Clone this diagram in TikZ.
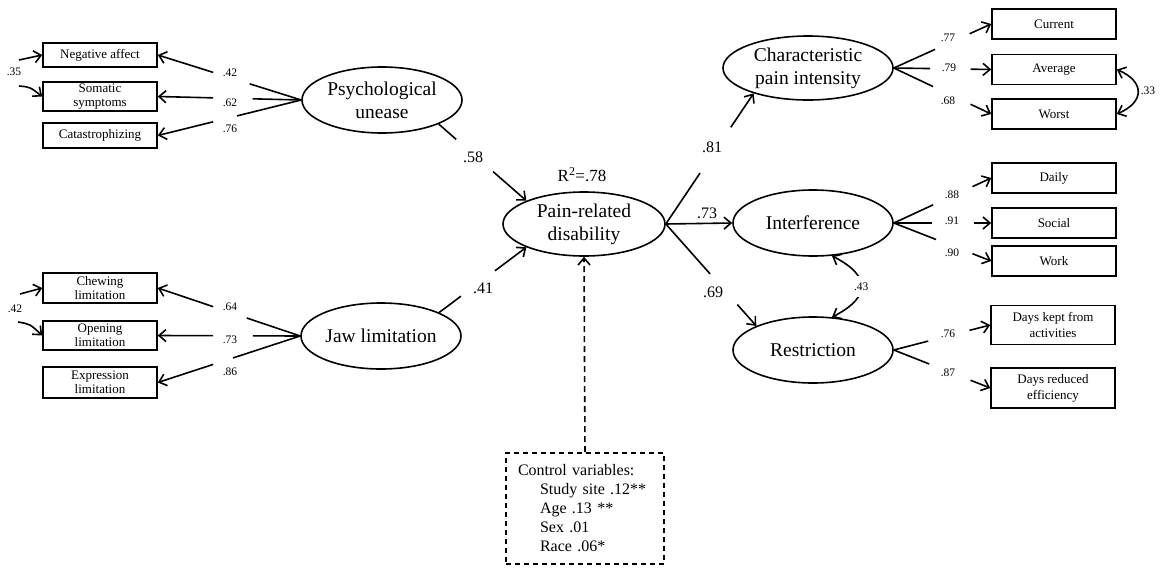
\documentclass[tikz,border=0pt]{standalone}
\usepackage{fontspec}
\setmainfont{Liberation Serif}
\usetikzlibrary{arrows.meta,calc,shapes.geometric}
\newcommand\splitarrow[5]{%
  \draw[conn] (#1) -- ($(#1)!#3!(#2)$);
  \draw[conn,#5] ($(#1)!#4!(#2)$) -- (#2);}
\begin{document}
\begin{tikzpicture}[x=1pt,y=-1pt,
  conn/.style={line width=1.6pt},
  arr/.style={-{Straight Barb[length=7pt,width=12pt]}},
  dbl/.style={{Straight Barb[length=7pt,width=12pt]}-{Straight Barb[length=7pt,width=12pt]}},
  latent/.style={ellipse,draw,line width=1.6pt,inner sep=0pt,minimum width=160pt,minimum height=66pt,align=center,font=\fontsize{19.5}{23}\selectfont},
  ind/.style={rectangle,draw,line width=1.6pt,inner sep=0pt,align=center,font=\fontsize{13}{14}\selectfont},
  lind/.style={ind,minimum width=114pt},
  rind/.style={ind,minimum width=124pt,minimum height=30pt},
  sl/.style={font=\fontsize{11.5}{12}\selectfont,inner sep=0pt},
  bl/.style={font=\fontsize{16}{18}\selectfont,inner sep=0pt}]
\useasboundingbox[fill=white] (0,0) rectangle (1163,568);

% latent variables
\node[latent] (psy) at (382,100) {Psychological\\unease};
\node[latent] (jaw) at (381,336) {Jaw limitation};
\node[latent,minimum width=162pt,minimum height=64pt] (pain) at (584,224) {Pain-related\\disability};
\node[latent,minimum width=170pt,minimum height=64pt] (char) at (808,68) {Characteristic\\pain intensity};
\node[latent] (inter) at (813,223) {Interference};
\node[latent] (restr) at (813,350) {Restriction};

% left indicators
\node[lind,minimum height=24pt] (na) at (100,55) {Negative affect};
\node[lind,minimum height=29pt] (ss) at (100,96.5) {Somatic\\symptoms};
\node[lind,minimum height=25pt] (cat) at (100,135.5) {Catastrophizing};
\node[lind,minimum height=30pt] (chew) at (100,288) {Chewing\\limitation};
\node[lind,minimum height=29pt] (open) at (100,335.5) {Opening\\limitation};
\node[lind,minimum height=31pt] (expr) at (100,382.5) {Expression\\limitation};

% right indicators
\node[rind] (cur) at (1054,24) {Current};
\node[rind] (avg) at (1054,69.5) {Average};
\node[rind] (worst) at (1054,114) {Worst};
\node[rind] (daily) at (1054,178) {Daily};
\node[rind] (social) at (1054,223) {Social};
\node[rind] (work) at (1054,261) {Work};
\node[rind,minimum height=39pt,font=\fontsize{13}{16}\selectfont] (dk) at (1053,325) {Days kept from\\activities};
\node[rind,minimum height=40pt,font=\fontsize{13}{16}\selectfont] (dr) at (1053,388) {Days reduced\\efficiency};

% control box
\node[draw,line width=1.6pt,dash pattern=on 5pt off 4pt,minimum width=158pt,minimum height=111pt,
  text width=134pt,inner xsep=12pt,inner ysep=0pt,align=left,font=\fontsize{16}{19}\selectfont] (ctrl) at (585,508.5)
  {Control variables:\\\hspace*{22pt}Study site .12**\\\hspace*{22pt}Age .13 **\\\hspace*{22pt}Sex .01\\\hspace*{22pt}Race .06*};

\node[font=\fontsize{17}{18}\selectfont,inner sep=0pt] (r2) at (582,175) {R\textsuperscript{2}=.78};

% loadings left
\splitarrow{psy.west}{na.east}{0.359}{0.614}{arr}
\splitarrow{psy.west}{ss.east}{0.338}{0.614}{arr}
\splitarrow{psy.west}{cat.east}{0.448}{0.614}{arr}
\node[sl] (l1) at (230,73) {.42};
\node[sl] (l2) at (230,103) {.62};
\node[sl] (l3) at (230,129) {.76};
\splitarrow{jaw.west}{chew.east}{0.375}{0.611}{arr}
\splitarrow{jaw.west}{open.east}{0.333}{0.611}{arr}
\splitarrow{jaw.west}{expr.east}{0.472}{0.611}{arr}
\node[sl] (l4) at (230,307) {.64};
\node[sl] (l5) at (230,340) {.73};
\node[sl] (l6) at (230,372) {.86};

% error covariances left
\coordinate (e1) at (19,60);
\coordinate (e2) at (19,86);
\coordinate (e3) at (20,294);
\coordinate (e4) at (18,322);
\draw[conn,arr] (e1) -- (na.west);
\draw[conn,arr] (e2) .. controls (30,87) .. (ss.west);
\draw[conn,arr] (e3) -- (chew.west);
\draw[conn,arr] (e4) .. controls (30,324) .. (open.west);
\node[sl] (c1) at (14,72) {.35};
\node[sl] (c2) at (15,309) {.42};

% structural paths
\splitarrow{psy.-23}{pain.158}{0.2}{0.62}{arr}
\node[bl] (p1) at (473,157) {.58};
\splitarrow{jaw.22}{pain.202}{0.25}{0.64}{arr}
\node[bl] (p2) at (483,288) {.41};
\splitarrow{pain.east}{char.205}{0.39}{0.74}{arr}
\node[bl] (p3) at (712,147) {.81};
\draw[conn,arr] (pain.east) -- (inter.west);
\node[bl] (p4) at (707,213) {.73};
\splitarrow{pain.east}{restr.157}{0.49}{0.79}{arr}
\node[bl] (p5) at (713,292) {.69};
\draw[conn,arr,dash pattern=on 6pt off 4pt] (ctrl.north) -- (pain.south);

% loadings right
\splitarrow{char.east}{cur.west}{0.424}{0.778}{arr}
\splitarrow{char.east}{avg.west}{0.374}{0.788}{arr}
\splitarrow{char.east}{worst.west}{0.404}{0.788}{arr}
\node[sl] (r1) at (948,38) {.77};
\node[sl] (r2b) at (949,68) {.79};
\node[sl] (r3) at (948,101) {.68};
\splitarrow{inter.east}{daily.west}{0.404}{0.808}{arr}
\splitarrow{inter.east}{social.west}{0.394}{0.828}{arr}
\splitarrow{inter.east}{work.west}{0.434}{0.808}{arr}
\node[sl] (r4) at (952,195) {.88};
\node[sl] (r5) at (952,221) {.91};
\node[sl] (r6) at (952,253) {.90};
\splitarrow{restr.east}{dk.west}{0.357}{0.786}{arr}
\splitarrow{restr.east}{dr.west}{0.367}{0.796}{arr}
\node[sl] (r7) at (948,334) {.76};
\node[sl] (r8) at (948,373) {.87};

% covariances right
\draw[conn,dbl] (avg.east) .. controls +(28,12) and +(28,-12) .. (worst.east);
\node[sl] (c3) at (1148,91) {.33};
\draw[conn,dbl] (restr.60) .. controls +(39,-20) and +(39,20) .. (inter.-60)
  node[pos=0.5,sl,fill=white,inner ysep=7pt,inner xsep=1pt] (c4) {.43};
\end{tikzpicture}
\end{document}
